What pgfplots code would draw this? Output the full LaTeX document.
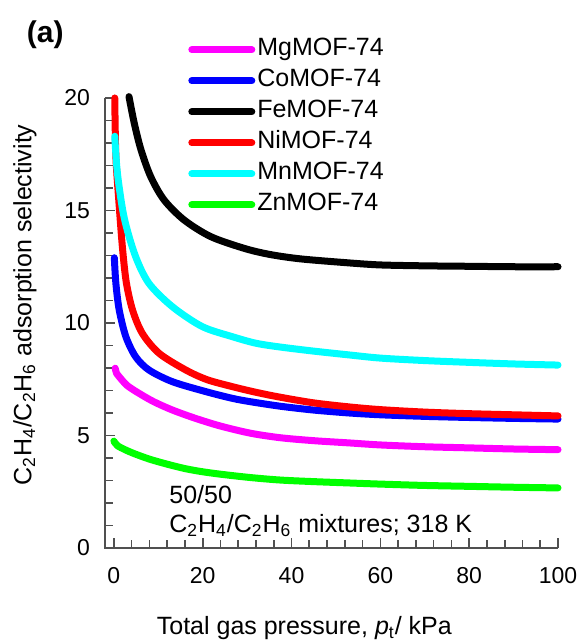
\documentclass[border=0pt]{standalone}
\usepackage{pgfplots}
\pgfplotsset{compat=1.18}
\usepackage{fontspec}
\setmainfont{Liberation Sans}
\definecolor{axgray}{RGB}{80,80,80}
\definecolor{cMg}{RGB}{255,0,255}
\definecolor{cCo}{RGB}{0,0,255}
\definecolor{cNi}{RGB}{255,0,0}
\definecolor{cMn}{RGB}{0,255,255}
\definecolor{cZn}{RGB}{0,255,0}
\begin{document}
\begin{tikzpicture}
\begin{axis}[
  at={(0,0)}, anchor=south west,
  scale only axis, width=226.5pt, height=225pt,
  xmin=-2, xmax=100, ymin=0, ymax=20,
  clip=false,
  axis x line*=bottom, axis y line*=left,
  axis line style={-, draw=axgray, line width=0.8pt},
  tick align=inside,
  tick style={draw=axgray, line width=0.8pt},
  major tick length=5pt, minor tick length=4pt,
  xtick={0,20,40,60,80,100},
  ytick={0,5,10,15,20},
  /pgf/number format/assume math mode=true,
  tick label style={font=\fontsize{11.5}{13}\selectfont},
  xticklabel style={yshift=-6pt},
  yticklabel style={xshift=-4pt},
  xlabel={Total gas pressure, \textit{p}\textsubscript{t}/ kPa},
  ylabel={C\textsubscript{2}H\textsubscript{4}/C\textsubscript{2}H\textsubscript{6} adsorption selectivity},
  label style={font=\fontsize{12.5}{14}\selectfont},
  x label style={at={(axis description cs:0.44,-0.178)}, anchor=center},
  y label style={at={(axis description cs:-0.177,0.54)}, anchor=center},
  legend cell align=left,
  legend style={at={(axis description cs:0.183,1.139)}, anchor=north west, draw=none, fill=none,
    inner sep=0pt, row sep=1.5pt, font=\fontsize{12.5}{14}\selectfont,
    nodes={inner sep=1pt, text height=9pt, text depth=3pt}},
  legend image code/.code={\draw[#1, line cap=round] (0pt,0pt) -- (30pt,0pt);},
  /tikz/every even column/.append style={column sep=4pt},
]
\draw[axgray, line width=0.8pt]
  (axis cs:-2,20) -- (axis cs:-2,0) -- (axis cs:100,0)
  (axis cs:0,0) -- (axis cs:0,0.44) (axis cs:20,0) -- (axis cs:20,0.44)
  (axis cs:40,0) -- (axis cs:40,0.44) (axis cs:60,0) -- (axis cs:60,0.44)
  (axis cs:80,0) -- (axis cs:80,0.44) (axis cs:100,0) -- (axis cs:100,0.44)
  (axis cs:4,0) -- (axis cs:4,0.36) (axis cs:8,0) -- (axis cs:8,0.36)
  (axis cs:12,0) -- (axis cs:12,0.36) (axis cs:16,0) -- (axis cs:16,0.36)
  (axis cs:24,0) -- (axis cs:24,0.36) (axis cs:28,0) -- (axis cs:28,0.36)
  (axis cs:32,0) -- (axis cs:32,0.36) (axis cs:36,0) -- (axis cs:36,0.36)
  (axis cs:44,0) -- (axis cs:44,0.36) (axis cs:48,0) -- (axis cs:48,0.36)
  (axis cs:52,0) -- (axis cs:52,0.36) (axis cs:56,0) -- (axis cs:56,0.36)
  (axis cs:64,0) -- (axis cs:64,0.36) (axis cs:68,0) -- (axis cs:68,0.36)
  (axis cs:72,0) -- (axis cs:72,0.36) (axis cs:76,0) -- (axis cs:76,0.36)
  (axis cs:84,0) -- (axis cs:84,0.36) (axis cs:88,0) -- (axis cs:88,0.36)
  (axis cs:92,0) -- (axis cs:92,0.36) (axis cs:96,0) -- (axis cs:96,0.36)
  (axis cs:-2,5) -- (axis cs:0.25,5) (axis cs:-2,10) -- (axis cs:0.25,10)
  (axis cs:-2,15) -- (axis cs:0.25,15) (axis cs:-2,20) -- (axis cs:0.25,20)
  (axis cs:-2,1) -- (axis cs:-0.2,1) (axis cs:-2,2) -- (axis cs:-0.2,2)
  (axis cs:-2,3) -- (axis cs:-0.2,3) (axis cs:-2,4) -- (axis cs:-0.2,4)
  (axis cs:-2,6) -- (axis cs:-0.2,6) (axis cs:-2,7) -- (axis cs:-0.2,7)
  (axis cs:-2,8) -- (axis cs:-0.2,8) (axis cs:-2,9) -- (axis cs:-0.2,9)
  (axis cs:-2,11) -- (axis cs:-0.2,11) (axis cs:-2,12) -- (axis cs:-0.2,12)
  (axis cs:-2,13) -- (axis cs:-0.2,13) (axis cs:-2,14) -- (axis cs:-0.2,14)
  (axis cs:-2,16) -- (axis cs:-0.2,16) (axis cs:-2,17) -- (axis cs:-0.2,17)
  (axis cs:-2,18) -- (axis cs:-0.2,18) (axis cs:-2,19) -- (axis cs:-0.2,19);
\addplot[cMg, line width=3.5pt, line cap=round, line join=round, smooth, tension=0.5] coordinates {(0.3,7.99) (0.6,7.76) (1.2,7.61) (3,7.22) (5.7,6.87) (9,6.5) (13.2,6.13) (18.4,5.76) (24,5.42) (30.8,5.1) (37.5,4.9) (45,4.77) (53,4.67) (60,4.58) (70,4.5) (80,4.45) (90,4.4) (100,4.37)};
\addlegendentry{MgMOF-74}
\addplot[cCo, line width=3.5pt, line cap=round, line join=round, smooth, tension=0.5] coordinates {(0.1,12.9) (0.45,11.76) (1.2,10.58) (2.7,9.39) (4.9,8.5) (7.9,7.91) (13.2,7.39) (20.7,6.95) (26.7,6.65) (30.8,6.5) (37.5,6.3) (45,6.13) (53,6.0) (60,5.92) (70,5.85) (80,5.8) (90,5.76) (100,5.73)};
\addlegendentry{CoMOF-74}
\addplot[black, line width=3.5pt, line cap=round, line join=round, smooth, tension=0.5] coordinates {(3.4,20.06) (4.6,18.87) (6.1,17.7) (8.3,16.5) (11.3,15.47) (15.8,14.58) (21.8,13.84) (29.3,13.32) (35,13.05) (42,12.85) (53,12.67) (60,12.58) (70,12.54) (80,12.52) (90,12.5) (100,12.5)};
\addlegendentry{FeMOF-74}
\addplot[cNi, line width=3.5pt, line cap=round, line join=round, smooth, tension=0.5] coordinates {(0.2,20) (0.45,17.4) (1.2,15.2) (1.95,13.3) (2.8,11.8) (4.2,10.58) (6.4,9.54) (10.2,8.65) (16.2,7.91) (21,7.48) (26.7,7.17) (32,6.92) (37.5,6.7) (45,6.45) (53,6.27) (60,6.15) (70,6.04) (80,5.97) (90,5.92) (100,5.87)};
\addlegendentry{NiMOF-74}
\addplot[cMn, line width=3.5pt, line cap=round, line join=round, smooth, tension=0.5] coordinates {(0.2,18.3) (0.8,16.65) (2.3,14.7) (4.8,13.0) (7.9,11.76) (13.2,10.72) (19.9,9.84) (26.7,9.39) (32,9.1) (37.5,8.93) (45,8.75) (53,8.58) (60,8.44) (70,8.33) (80,8.25) (90,8.18) (100,8.13)};
\addlegendentry{MnMOF-74}
\addplot[cZn, line width=3.5pt, line cap=round, line join=round, smooth, tension=0.5] coordinates {(0,4.75) (0.8,4.55) (2.5,4.37) (4.5,4.2) (8,3.95) (12.1,3.72) (16,3.53) (19.6,3.4) (24,3.28) (30.8,3.13) (37.5,3.02) (45,2.95) (53,2.89) (60,2.84) (70,2.78) (80,2.74) (90,2.7) (100,2.67)};
\addlegendentry{ZnMOF-74}
\node[anchor=base west, font=\fontsize{12.5}{14}\selectfont, inner sep=0pt] at (axis cs:12.4,2.0) {50/50};
\node[anchor=base west, font=\fontsize{12.5}{14}\selectfont, inner sep=0pt] at (axis cs:12.4,0.67) {C\textsubscript{2}H\textsubscript{4}/C\textsubscript{2}H\textsubscript{6} mixtures; 318 K};
\node[font=\bfseries\fontsize{15}{18}\selectfont] at (axis description cs:-0.132,1.14) {(a)};
\end{axis}
\pgfresetboundingbox
\path[use as bounding box] (-52.5pt,-46pt) rectangle (237.5pt,274pt);
\end{tikzpicture}
\end{document}
